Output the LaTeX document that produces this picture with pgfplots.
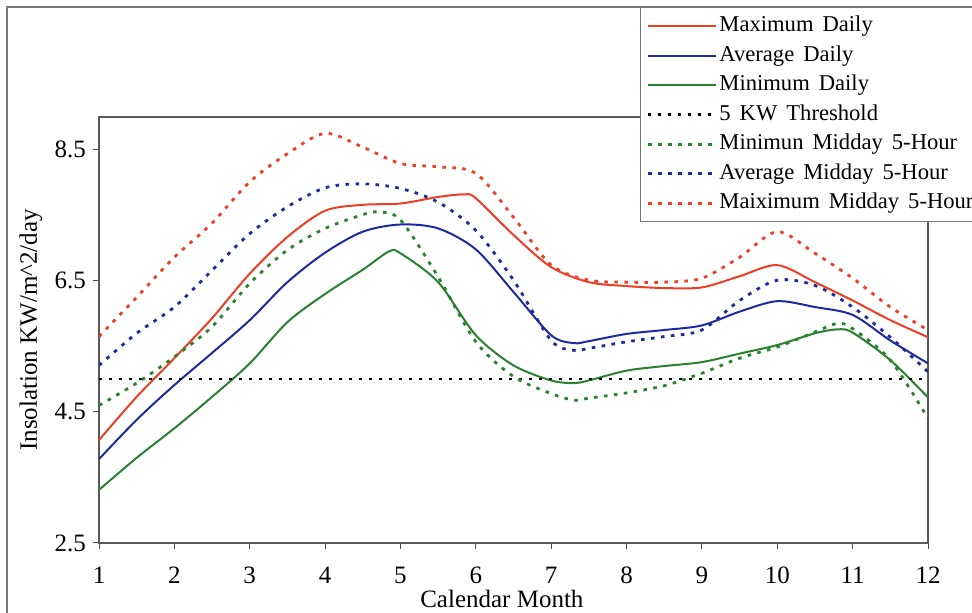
\documentclass[border=0pt]{standalone}
\usepackage{pgfplots}
\pgfplotsset{compat=1.18}
\usepackage{fontspec}
\setmainfont{Liberation Serif}

\definecolor{maxred}{RGB}{240,62,36}
\definecolor{avgblue}{RGB}{30,42,160}
\definecolor{mingreen}{RGB}{40,130,48}
\definecolor{framegray}{RGB}{120,120,120}

\newcommand{\legendfont}{\fontsize{11.3}{13}\selectfont\spaceskip=0.4em\relax}

\tikzset{
  daily/.style={line width=1pt},
  midday/.style={line width=1.4pt, dash pattern=on 1.8pt off 3.2pt},
}

\begin{document}
\begin{tikzpicture}
  % outer chart frame
  \draw[framegray, line width=0.6pt] (3.5pt,-10pt) rectangle (520pt,303pt);
  \begin{axis}[
    at={(49.5pt,35pt)}, anchor=south west,
    scale only axis,
    width=414.5pt, height=213pt,
    xmin=1, xmax=12,
    ymin=2.5, ymax=9,
    xtick={1,2,3,4,5,6,7,8,9,10,11,12},
    ytick={2.5,4.5,6.5,8.5},
    xtick pos=bottom, ytick pos=left,
    tick align=outside,
    major tick length=3pt,
    tick style={black!70, line width=0.5pt},
    axis line style={black!65, line width=0.6pt},
    /pgf/number format/assume math mode=true,
    yticklabel style={/pgf/number format/fixed, /pgf/number format/fixed zerofill,
      /pgf/number format/precision=1},
    ticklabel style={font=\fontsize{12.5}{14}\selectfont},
    xticklabel style={yshift=-5.5pt},
    xlabel={Calendar Month},
    ylabel={Insolation KW/m\textasciicircum 2/day},
    label style={font=\fontsize{12.5}{14}\selectfont},
    xlabel style={at={(0.486,-0.1315)}, anchor=center},
    ylabel style={at={(-0.082,0.5)}, anchor=center},
    legend cell align=left,
    legend style={
      at={(0.6526,1.258)}, anchor=north west,
      draw=framegray, line width=0.6pt, fill=white,
      font=\legendfont,
      inner xsep=3pt, inner ysep=3pt,
      row sep=2.25pt,
      nodes={inner sep=1pt, text height=8pt, text depth=2.5pt},
    },
    legend image code/.code={\draw[#1] (0pt,0pt) -- (34pt,0pt);},
  ]

  \addplot[maxred, daily, smooth] coordinates {
    (1,4.07)(1.5,4.73)(2,5.32)(2.5,5.93)(3,6.61)(3.5,7.17)(4,7.57)(4.5,7.66)
    (5,7.68)(5.5,7.78)(5.85,7.82)(6,7.76)(6.5,7.20)(7,6.71)(7.5,6.48)(8,6.42)
    (8.5,6.39)(9,6.40)(9.5,6.57)(10,6.74)(10.5,6.48)(11,6.20)(11.5,5.90)(12,5.64)
  };
  \addlegendentry{Maximum Daily}

  \addplot[avgblue, daily, smooth] coordinates {
    (1,3.78)(1.5,4.38)(2,4.91)(2.5,5.40)(3,5.90)(3.5,6.48)(4,6.93)(4.5,7.25)
    (5,7.36)(5.5,7.30)(6,6.98)(6.5,6.33)(7,5.67)(7.3,5.55)(7.5,5.58)(8,5.69)
    (8.5,5.75)(9,5.82)(9.5,6.03)(10,6.19)(10.5,6.10)(11,5.98)(11.5,5.59)(12,5.24)
  };
  \addlegendentry{Average Daily}

  \addplot[mingreen, daily, smooth] coordinates {
    (1,3.31)(1.5,3.80)(2,4.25)(2.5,4.73)(3,5.24)(3.5,5.87)(4,6.30)(4.5,6.67)
    (4.85,6.95)(5,6.92)(5.5,6.48)(6,5.67)(6.5,5.21)(7,4.98)(7.3,4.94)(7.5,4.98)
    (8,5.13)(8.5,5.20)(9,5.26)(9.5,5.39)(10,5.52)(10.5,5.70)(10.8,5.76)(11,5.71)
    (11.5,5.29)(12,4.72)
  };
  \addlegendentry{Minimum Daily}

  \addplot[black, line width=1.2pt, dash pattern=on 1.6pt off 3.4pt] coordinates {
    (1,5.0)(12,5.0)
  };
  \addlegendentry{5 KW Threshold}

  \addplot[mingreen, midday, smooth] coordinates {
    (1,4.60)(1.5,4.94)(2,5.34)(2.5,5.80)(3,6.46)(3.5,6.97)(4,7.30)(4.5,7.51)
    (4.7,7.55)(5,7.43)(5.5,6.56)(6,5.57)(6.5,5.04)(7,4.78)(7.3,4.68)(7.5,4.71)
    (8,4.79)(8.5,4.90)(9,5.09)(9.5,5.32)(10,5.49)(10.5,5.72)(10.8,5.85)(11,5.77)
    (11.5,5.29)(12,4.40)
  };
  \addlegendentry{Minimun Midday 5-Hour}

  \addplot[avgblue, midday, smooth] coordinates {
    (1,5.21)(1.5,5.70)(2,6.10)(2.5,6.66)(3,7.22)(3.5,7.63)(4,7.92)(4.5,7.98)
    (5,7.91)(5.5,7.70)(6,7.27)(6.5,6.51)(7,5.59)(7.3,5.44)(7.5,5.47)(8,5.57)
    (8.5,5.65)(9,5.75)(9.5,6.20)(10,6.51)(10.5,6.43)(11,6.10)(11.5,5.64)(12,5.11)
  };
  \addlegendentry{Average Midday 5-Hour}

  \addplot[maxred, midday, smooth] coordinates {
    (1,5.65)(1.5,6.25)(2,6.86)(2.5,7.38)(3,8.01)(3.5,8.44)(4,8.75)(4.5,8.54)
    (5,8.29)(5.5,8.24)(6,8.14)(6.5,7.47)(7,6.74)(7.5,6.51)(8,6.48)(8.5,6.48)
    (9,6.54)(9.5,6.86)(10,7.25)(10.5,6.92)(11,6.54)(11.5,6.10)(12,5.75)
  };
  \addlegendentry{Maiximum Midday 5-Hour\kern14pt}

  \end{axis}
  \pgfresetboundingbox
  \useasboundingbox (0,0) rectangle (486pt,306.5pt);
\end{tikzpicture}
\end{document}
